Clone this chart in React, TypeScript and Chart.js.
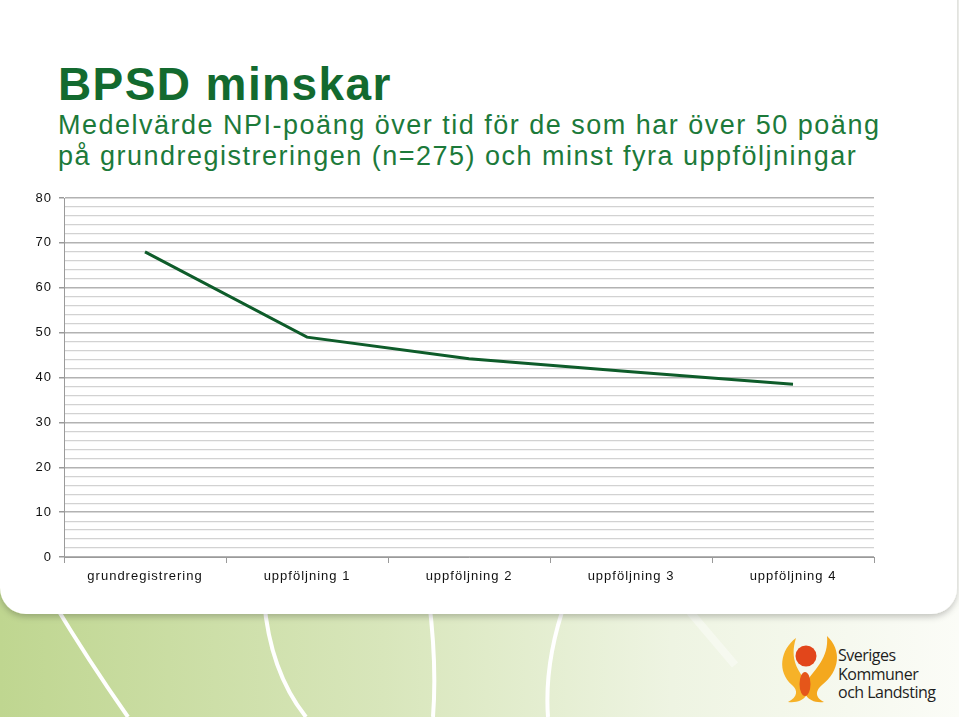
import React, { useEffect, useRef } from "react";
import { Chart, registerables } from "chart.js";

Chart.register(...registerables);

const categories = ["grundregistrering", "uppföljning 1", "uppföljning 2", "uppföljning 3", "uppföljning 4"];
const meanNPI = [68, 49, 44.2, 41.3, 38.5];
const yMin = 0;
const yMax = 80;
const yMinorStep = 2;
const yMajorStep = 10;

const title = "BPSD minskar";
const subtitleLines = [
  "Medelvärde NPI-poäng över tid för de som har över 50 poäng",
  "på grundregistreringen (n=275) och minst fyra uppföljningar",
];
const logoLines = ["Sveriges", "Kommuner", "och Landsting"];

const spacingPlugin = {
  id: "spacing",
  beforeDraw(chart: any) {
    chart.ctx.letterSpacing = "1px";
  },
};

function ChartCanvas() {
  const ref = useRef<HTMLCanvasElement | null>(null);
  useEffect(() => {
    if (!ref.current) return;
    const chart = new Chart(ref.current, {
      type: "line",
      data: {
        labels: categories,
        datasets: [
          {
            data: meanNPI,
            borderColor: "#0e5c2a",
            borderWidth: 3,
            pointRadius: 0,
            tension: 0,
            fill: false,
          },
        ],
      },
      options: {
        animation: false,
        responsive: false,
        maintainAspectRatio: false,
        events: [],
        layout: { padding: { left: 0, top: 198, right: 85, bottom: 120 } },
        plugins: { legend: { display: false }, tooltip: { enabled: false }, title: { display: false } },
        scales: {
          x: {
            type: "category",
            offset: true,
            grid: {
              offset: true,
              drawOnChartArea: false,
              drawTicks: true,
              tickLength: 6,
              tickColor: "#9a9a9a",
            },
            border: { color: "#9a9a9a", width: 1 },
            ticks: {
              color: "#111",
              font: { family: "Liberation Sans, Arial, sans-serif", size: 13 },
              padding: 6,
              maxRotation: 0,
              minRotation: 0,
              autoSkip: false,
            },
            afterFit(scale: any) {
              scale.height = 40;
            },
          },
          y: {
            min: yMin,
            max: yMax,
            grid: {
              color: (c: any) => (c.tick && c.tick.value % yMajorStep === 0 ? "#b2b2b2" : "#d2d2d2"),
              lineWidth: (c: any) => (c.tick && c.tick.value % yMajorStep === 0 ? 1.5 : 1.2),
              tickColor: (c: any) => (c.tick && c.tick.value % yMajorStep === 0 ? "#9a9a9a" : "rgba(0,0,0,0)"),
              tickLength: 5,
              drawTicks: true,
            },
            border: { color: "#9a9a9a", width: 1 },
            ticks: {
              stepSize: yMinorStep,
              autoSkip: false,
              color: "#111",
              padding: 7,
              font: { family: "Liberation Sans, Arial, sans-serif", size: 13 },
              callback: (v: any) => (Number(v) % yMajorStep === 0 ? String(v) : ""),
            },
            afterFit(scale: any) {
              scale.width = 64;
            },
          },
        },
      },
      plugins: [spacingPlugin],
    });
    return () => chart.destroy();
  }, []);
  return (
    <canvas
      ref={ref}
      width={959}
      height={717}
      style={{ position: "absolute", left: 0, top: 0, width: 959, height: 717 }}
    />
  );
}

function Background() {
  return (
    <svg width={959} height={717} style={{ position: "absolute", left: 0, top: 0 }}>
      <defs>
        <linearGradient id="bg" x1="0" y1="0" x2="1" y2="0">
          <stop offset="0" stopColor="#bfd690" />
          <stop offset="0.4" stopColor="#d8e6bb" />
          <stop offset="0.7" stopColor="#eef4e2" />
          <stop offset="1" stopColor="#fbfcf7" />
        </linearGradient>
        <filter id="sh" x="-5%" y="-5%" width="110%" height="115%">
          <feDropShadow dx="0" dy="3" stdDeviation="3" floodColor="#000" floodOpacity="0.22" />
        </filter>
      </defs>
      <rect x={0} y={0} width={959} height={717} fill="url(#bg)" />
      <g stroke="#ffffff" strokeWidth={4} fill="none">
        <path d="M 52 600 Q 88 660 128 717" />
        <path d="M 264 600 Q 270 672 306 717" />
        <path d="M 429 600 Q 437 665 433 717" />
        <path d="M 566 600 Q 544 662 548 717" />
      </g>
      <path d="M 690 612 L 735 665" stroke="#ffffff" strokeOpacity={0.4} strokeWidth={8} fill="none" />
      <rect x={0} y={-40} width={957} height={654} rx={26} ry={26} fill="#ffffff" filter="url(#sh)" />
      <text
        x={58}
        y={100}
        fontFamily="Liberation Sans, Arial, sans-serif"
        fontWeight="bold"
        fontSize={46}
        letterSpacing={1.4}
        fill="#136a2f"
      >
        {title}
      </text>
      {subtitleLines.map((l, i) => (
        <text
          key={i}
          x={58}
          y={134 + i * 31}
          fontFamily="Liberation Sans, Arial, sans-serif"
          fontSize={27}
          letterSpacing={1.5}
          fill="#1c7a3a"
        >
          {l}
        </text>
      ))}
      <g>
        <path
          d="M 796 638 C 780 650 777 672 792 685 C 798 690 798 697 788 702 C 804 704 812 693 806 682 C 799 671 789 660 796 638 Z"
          fill="#f6b228"
        />
        <path
          d="M 827 636 C 842 650 840 671 822 685 C 816 690 814 697 824 702 C 808 704 800 692 807 681 C 815 669 829 658 827 636 Z"
          fill="#f4a81e"
        />
        <circle cx={806} cy={656} r={10.5} fill="#e2461b" />
        <ellipse cx={805} cy={684} rx={5.5} ry={12} fill="#e5561a" />
      </g>
      {logoLines.map((l, i) => (
        <text
          key={i}
          x={838}
          y={661 + i * 18.5}
          fontFamily="Open Sans, Liberation Sans, sans-serif"
          fontSize={16}
          letterSpacing={-0.5}
          fill="#1e1e1e"
        >
          {l}
        </text>
      ))}
    </svg>
  );
}

export default function App() {
  return (
    <div
      style={{
        position: "fixed",
        left: 0,
        top: 0,
        width: 959,
        height: 717,
        overflow: "hidden",
        background: "#ffffff",
      }}
    >
      <Background />
      <ChartCanvas />
    </div>
  );
}
